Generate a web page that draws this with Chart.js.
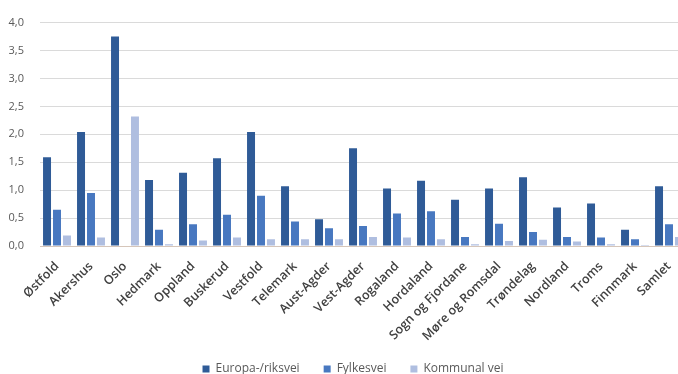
<!DOCTYPE html>
<html>
<head>
<meta charset="utf-8">
<script src="https://cdn.jsdelivr.net/npm/chart.js@4.4.1/dist/chart.umd.min.js"></script>
<style>
  html, body { margin: 0; padding: 0; background: #ffffff; overflow: hidden; width: 678px; height: 374px; }
  #wrap { position: absolute; left: 0; top: 0; width: 714px; height: 374px; }
</style>
</head>
<body>
<div id="wrap"><canvas id="chart" width="714" height="374"></canvas></div>
<script>
// Fylker (counties) plus the national total
const categories = ['Østfold', 'Akershus', 'Oslo', 'Hedmark', 'Oppland', 'Buskerud', 'Vestfold', 'Telemark',
  'Aust-Agder', 'Vest-Agder', 'Rogaland', 'Hordaland', 'Sogn og Fjordane', 'Møre og Romsdal', 'Trøndelag',
  'Nordland', 'Troms', 'Finnmark', 'Samlet'];

// Values per road category
const europaRiksvei = [1.59, 2.04, 3.75, 1.18, 1.31, 1.57, 2.04, 1.07, 0.48, 1.75, 1.03, 1.17, 0.83, 1.03, 1.23, 0.69, 0.76, 0.29, 1.07];
const fylkesvei     = [0.65, 0.95, 0.00, 0.29, 0.39, 0.56, 0.90, 0.44, 0.32, 0.36, 0.58, 0.62, 0.16, 0.40, 0.25, 0.16, 0.15, 0.12, 0.39];
const kommunalVei   = [0.19, 0.15, 2.32, 0.03, 0.10, 0.15, 0.12, 0.12, 0.12, 0.16, 0.15, 0.12, 0.03, 0.09, 0.11, 0.08, 0.03, 0.02, 0.16];

const seriesNames = ['Europa-/riksvei', 'Fylkesvei', 'Kommunal vei'];

// Y axis ticks: 0,0 … 4,0
const yMin = 0, yMax = 4, yStep = 0.5;

const colors = ['#2F5B97', '#4878C0', '#AFBEE0'];
const fontFamily = "'Open Sans', 'Liberation Sans', sans-serif";

const datasets = [europaRiksvei, fylkesvei, kommunalVei].map((values, i) => ({
  label: seriesNames[i],
  data: values,
  backgroundColor: colors[i],
  borderWidth: 0,
  categoryPercentage: 0.88,
  barPercentage: 0.8
}));

// Nudge the legend row down and to the right of its default spot
const legendOffset = {
  id: 'legendOffset',
  afterLayout(chart) {
    const lg = chart.legend;
    if (lg) { lg.top += 11; lg.bottom += 11; lg.left += 6; lg.right += 6; }
  }
};

const noPadding = () => ({ left: 0, top: 0, right: 0, bottom: 0 });

new Chart(document.getElementById('chart'), {
  type: 'bar',
  data: { labels: categories, datasets },
  plugins: [legendOffset],
  options: {
    responsive: false,
    animation: false,
    devicePixelRatio: 1,
    layout: { padding: { left: 8, right: 28, top: 5, bottom: 0 } },
    plugins: {
      tooltip: { enabled: false },
      legend: {
        position: 'bottom',
        labels: {
          boxWidth: 7,
          boxHeight: 7,
          padding: 24,
          color: '#595959',
          font: { family: fontFamily, size: 12 }
        }
      }
    },
    scales: {
      x: {
        grid: { display: false, drawTicks: false },
        border: { display: true, color: '#D6C6BA', width: 1 },
        ticks: {
          color: '#404040',
          font: { family: fontFamily, size: 12.5, weight: '600' },
          minRotation: 45,
          maxRotation: 45,
          autoSkip: false,
          padding: 13
        },
        afterFit(scale) {
          // rotated labels hang past the ends and below the axis box
          scale.paddingLeft = 0;
          scale.paddingRight = 0;
          scale.getPadding = noPadding;
          scale._computeLabelArea = () => undefined;
          scale.height = 82;
        }
      },
      y: {
        min: yMin,
        max: yMax,
        grid: { color: '#DADADA', lineWidth: 1, drawTicks: false },
        border: { display: false },
        ticks: {
          stepSize: yStep,
          padding: 16,
          color: '#595959',
          font: { family: fontFamily, size: 11 },
          callback: v => v.toFixed(1).replace('.', ',')
        },
        afterFit(scale) {
          scale.width = 32;
        }
      }
    }
  }
});
</script>
</body>
</html>
